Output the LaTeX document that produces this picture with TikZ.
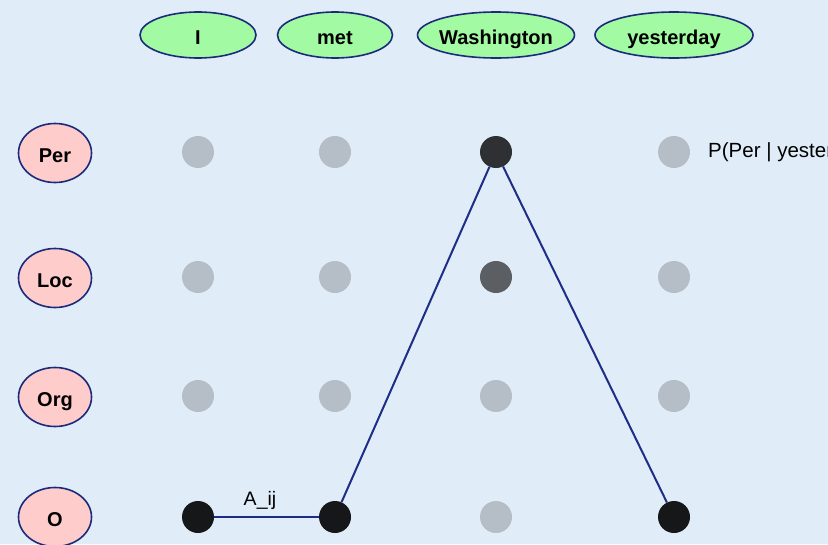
\documentclass[tikz,border=0pt]{standalone}
\usepackage{fontspec}
\setmainfont{Liberation Sans}
\usetikzlibrary{shapes.geometric}
\definecolor{bg}{HTML}{E0EDF9}
\definecolor{rim}{HTML}{1B2B7C}
\definecolor{wordfill}{HTML}{A2FBA2}
\definecolor{tagfill}{HTML}{FFCCCC}
\definecolor{idle}{HTML}{B5BEC6}
\definecolor{hot}{HTML}{161719}
\definecolor{warm}{HTML}{2E3034}
\definecolor{mid}{HTML}{5B5F63}
\definecolor{path}{HTML}{1E2D85}
\tikzset{
  bubble/.style={ellipse, draw=rim, line width=1.6pt, inner xsep=-6pt, inner ysep=0pt,
    text height=23.5pt, text depth=4pt,
    font=\fontsize{20}{24}\selectfont\bfseries},
  word/.style={bubble, fill=wordfill, minimum height=46pt},
  tag/.style={bubble, fill=tagfill, minimum width=73pt, minimum height=59pt},
  dot/.style={circle, inner sep=0pt, minimum size=32pt, fill=#1},
  link/.style={draw=path, line width=2pt},
  note/.style={inner sep=0pt, font=\fontsize{20}{24}\selectfont}
}
\begin{document}
\begin{tikzpicture}[x=1pt, y=-1pt]
  \useasboundingbox (0,0) rectangle (828,544);
  \clip (0,0) rectangle (828,544);
  \fill[bg] (0,0) rectangle (828,544);

  % words of the sentence
  \node[word, minimum width=116pt] (w1) at (198,35) {I};
  \node[word, minimum width=115pt] (w2) at (335,35) {met};
  \node[word, minimum width=157pt] (w3) at (496,35) {Washington};
  \node[word, minimum width=158pt] (w4) at (674,35) {yesterday};

  % tag labels
  \node[tag] (t1) at (55,153) {Per};
  \node[tag] (t2) at (55,278) {Loc};
  \node[tag] (t3) at (55,397) {Org};
  \node[tag] (t4) at (55,517) {O};

  % trellis of states
  \node[dot=idle] (d11) at (198,152) {};
  \node[dot=idle] (d12) at (335,152) {};
  \node[dot=warm] (d13) at (496,152) {};
  \node[dot=idle] (d14) at (674,152) {};

  \node[dot=idle] (d21) at (198,277) {};
  \node[dot=idle] (d22) at (335,277) {};
  \node[dot=mid]  (d23) at (496,277) {};
  \node[dot=idle] (d24) at (674,277) {};

  \node[dot=idle] (d31) at (198,396) {};
  \node[dot=idle] (d32) at (335,396) {};
  \node[dot=idle] (d33) at (496,396) {};
  \node[dot=idle] (d34) at (674,396) {};

  \node[dot=hot]  (d41) at (198,517) {};
  \node[dot=hot]  (d42) at (335,517) {};
  \node[dot=idle] (d43) at (496,517) {};
  \node[dot=hot]  (d44) at (674,517) {};

  % best path
  \draw[link] (d41) -- (d42);
  \draw[link] (d42) -- (d13);
  \draw[link] (d13) -- (d44);

  % annotations
  \node[note, anchor=base, font=\fontsize{19.5}{23}\selectfont] (aij) at (260,505.5) {A\_ij};
  \node[note, anchor=base west, font=\fontsize{20.5}{24}\selectfont] (emit) at (708,157.5) {P(Per | yesterday)};
\end{tikzpicture}
\end{document}
